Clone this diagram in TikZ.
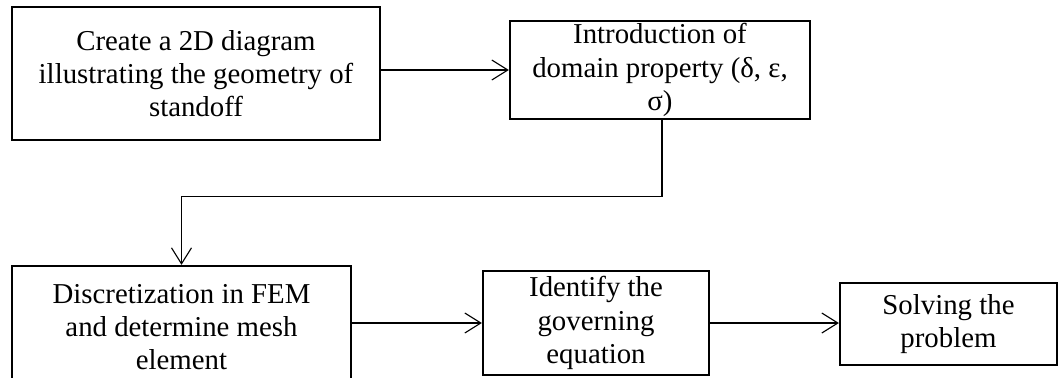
\documentclass[tikz,border=0pt]{standalone}
\usepackage{fontspec}
\setmainfont{Liberation Serif}
\usetikzlibrary{positioning, arrows.meta, calc}

\begin{document}
\begin{tikzpicture}[
  % Node Styles
  stepbox/.style={rectangle, draw, line width=1.6pt, text=black, align=center, inner sep=2pt},
  % Arrow Styles
  flowarrow/.style={-{Straight Barb[length=4mm, width=5mm]}, line width=0.8pt}
]
\tikzset{font=\fontsize{20.5}{23.6}\selectfont} % Adjust line spacing

% Fixed page size
\clip (0,0) rectangle (26.525,-9.425);

% Nodes
\node[stepbox, minimum width=9.2cm, minimum height=3.325cm] (Create) at (4.9,-1.8375) {Create a 2D diagram \\ illustrating the geometry of \\ standoff};
\node[stepbox, minimum width=7.5cm, minimum height=2.25cm] (Domain) at (16.5,-1.75) {Introduction of \\ domain property (δ, ε, \\ σ)};
\node[stepbox, minimum width=8.475cm, minimum height=3.05cm] (Discret) at (4.5375,-8.175) {Discretization in FEM \\ and determine mesh \\ element};
\node[stepbox, minimum width=5.65cm, minimum height=2.6cm] (Govern) at (14.9,-8.075) {Identify the \\ governing \\ equation};
\node[stepbox, minimum width=5.425cm, minimum height=2.05cm] (Solve) at (23.7125,-8.1) {Solving the \\ problem};

% Arrows
\draw[flowarrow] (Create.east |- Domain.west) -- (Domain.west);
\draw[flowarrow] ([xshift=0.05cm]Domain.south) -- ++(0,-1.9) -| (Discret.north); % Elbow down to FEM box
\draw[flowarrow] (Discret.east |- Govern.west) -- (Govern.west);
\draw[flowarrow] (Govern.east) -- (Govern.east -| Solve.west);

\end{tikzpicture}
\end{document}
